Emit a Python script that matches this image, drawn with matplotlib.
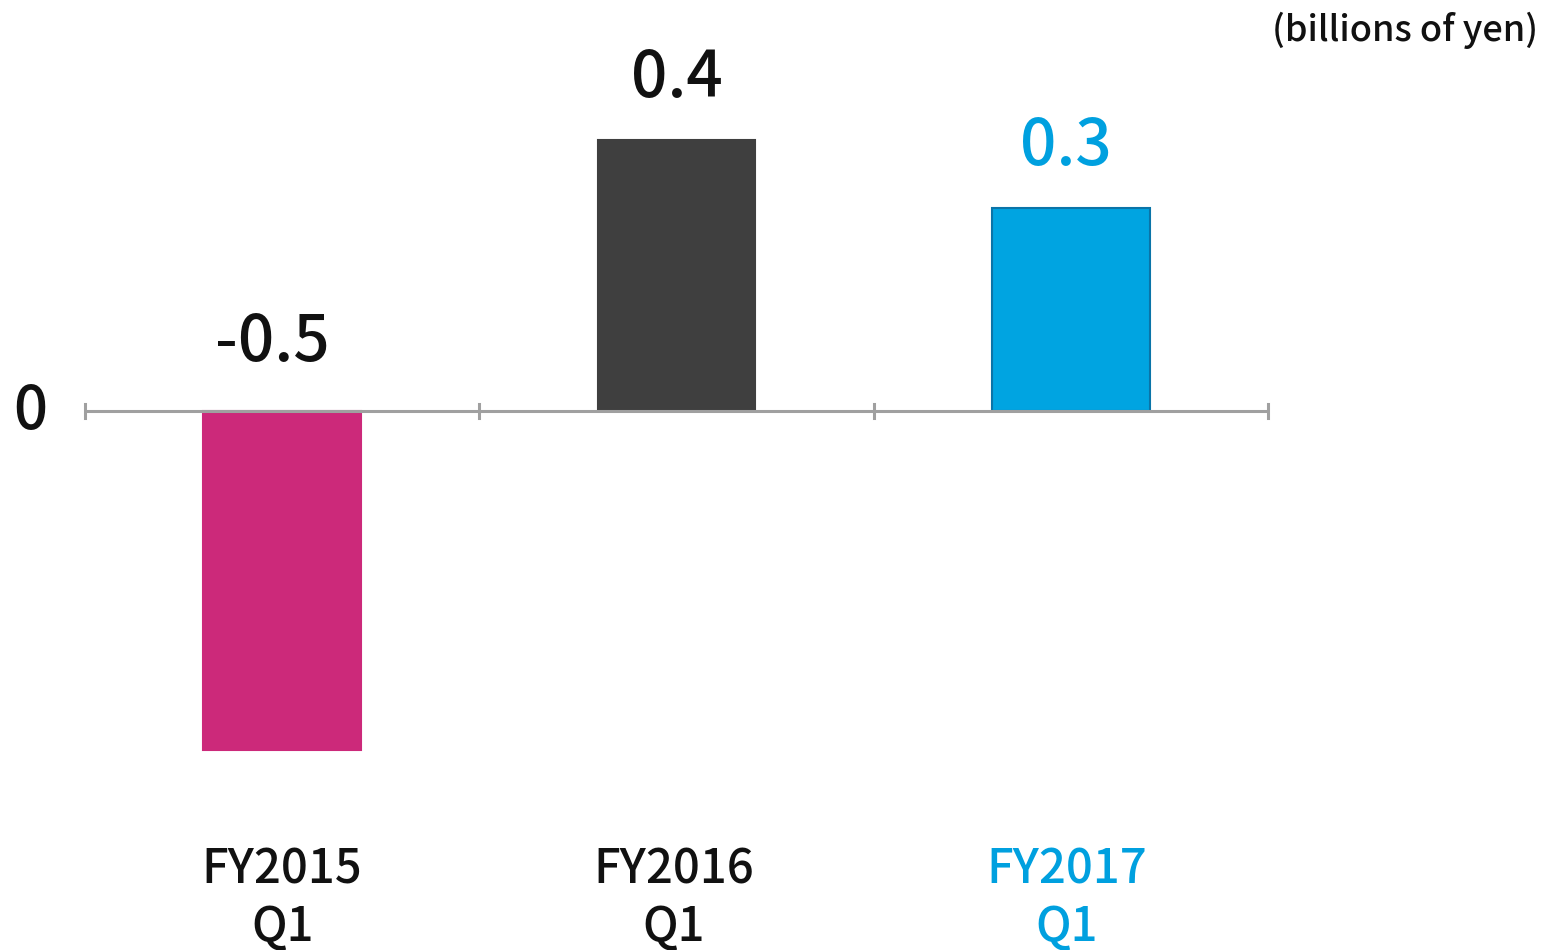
import matplotlib
matplotlib.use("Agg")
import matplotlib.pyplot as plt

plt.rcParams['font.family'] = ['Noto Sans CJK JP', 'DejaVu Sans']

categories = ["FY2015\nQ1", "FY2016\nQ1", "FY2017\nQ1"]
values = [-0.5, 0.4, 0.3]
value_labels = ["-0.5", "0.4", "0.3"]
bar_colors = ["#CC297A", "#3F3F3F", "#00A4E1"]
edge_colors = ["#CC297A", "#3F3F3F", "#0A74A8"]
text_colors = ["#111111", "#111111", "#00A0DF"]
unit_label = "(billions of yen)"

fig = plt.figure(figsize=(15.57, 9.5), dpi=100)
ax = fig.add_axes([85/1557, 0, 1183/1557, 1])
ax.set_xlim(-0.5, 2.5)
ax.set_ylim(-(950 - 411) / 678, 411 / 678)
ax.axis('off')

x = list(range(len(categories)))
ax.bar(x, values, width=0.4, color=bar_colors, edgecolor=edge_colors, linewidth=1.5, zorder=2)

# zero axis line with ticks
ax.axhline(0, color="#A0A0A0", lw=2.2, zorder=3)
for b in [-0.5, 0.5, 1.5, 2.5]:
    ax.plot([b, b], [-7/678, 7/678], color="#A0A0A0", lw=2.2, zorder=3, clip_on=False)

# value labels
offsets = [-0.025, 0.0, -0.012]
for i, (v, lab) in enumerate(zip(values, value_labels)):
    base = max(v, 0)
    gap = 50/678 if v < 0 else 43/678
    ax.text(i + offsets[i], base + gap, lab, ha='center', va='baseline',
            fontsize=46, color=text_colors[i], fontweight='medium')

# category labels
cat_offsets = [0.0, -0.008, -0.01]
for i, c in enumerate(categories):
    ax.text(i + cat_offsets[i], -(846 - 411) / 678, c, ha='center', va='top', fontsize=34,
            color=text_colors[i], fontweight='medium', linespacing=1.22)

# zero label
fig.text(30/1557, 1 - 411/950, "0", ha='center', va='center', fontsize=43,
         color="#111111", fontweight='medium')

# unit label
fig.text(1538/1557, 1 - 30/950, unit_label, ha='right', va='center', fontsize=26,
         color="#111111", fontweight='medium')

fig.savefig("out.png", dpi=100)
